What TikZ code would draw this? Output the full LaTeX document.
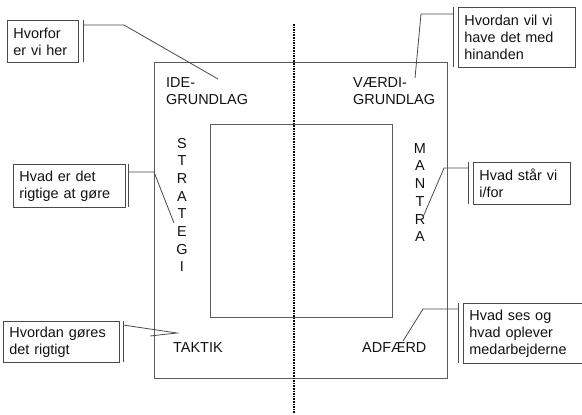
\documentclass[tikz,border=0pt]{standalone}
\usepackage{fontspec}
\setmainfont{Liberation Sans}
\usetikzlibrary{positioning}
\definecolor{frame}{HTML}{5C5C5C}
\definecolor{lead}{HTML}{4A4A4A}
\definecolor{ink}{HTML}{111111}

\begin{document}
\begin{tikzpicture}[x=1bp, y=-1bp,
    lbl/.style={font=\fontsize{14.5}{17}\selectfont, inner sep=0pt, text=ink},
    tall/.style={lbl, align=center, font=\fontsize{14.5}{17.75}\selectfont},
    callout/.style={draw=lead, line width=0.8bp, anchor=north west, align=left,
                    font=\fontsize{14.5}{17}\selectfont, text=ink,
                    inner xsep=6bp, inner ysep=0pt},
    leader/.style={draw=lead, line width=0.8bp},
    dots/.style={draw=black, line width=1.3bp, dash pattern=on 1.6bp off 1bp}]
  \useasboundingbox (0,0) rectangle (582,414);
  % frames
  \draw[frame, line width=0.9bp] (154,62) rectangle (447,378);
  \draw[frame, line width=0.9bp] (210,124) rectangle (392,317);
  \draw[dots] (294,24) -- (294,414);
  % corner words
  \node[lbl, anchor=north west, align=left] (ide) at (166,77) {IDE-\\GRUNDLAG};
  \node[lbl, anchor=north west, align=left] (vaerdi) at (353,77) {VÆRDI-\\GRUNDLAG};
  \node[tall] (strategi) at (182,205) {S\\T\\R\\A\\T\\E\\G\\I};
  \node[tall] (mantra) at (420,192.5) {M\\A\\N\\T\\R\\A};
  \node[lbl, anchor=west] (taktik) at (173,348) {TAKTIK};
  \node[lbl, anchor=west] (adfaerd) at (362,348) {ADFÆRD};
  % callouts
  \node[callout, text width=59bp, minimum height=42bp] (h1) at (7,20) {Hvorfor\\er vi her};
  \node[callout, text width=105bp, minimum height=60bp] (h2) at (458,7) {Hvordan vil vi\\have det med\\hinanden};
  \node[callout, text width=100bp, minimum height=43bp] (h3) at (13,164) {Hvad er det\\rigtige at gøre};
  \node[callout, text width=85bp, minimum height=42bp] (h4) at (473,162) {Hvad står vi\\i/for};
  \node[callout, text width=104bp, minimum height=41bp] (h5) at (3,321) {Hvordan gøres\\det rigtigt};
  \node[callout, text width=107bp, minimum height=60bp] (h6) at (463,303) {Hvad ses og\\hvad oplever\\medarbejderne};
  % brackets
  \draw[leader] (83,20) -- (83,62);
  \draw[leader] (453,7) -- (453,67);
  \draw[leader] (128,164) -- (128,207);
  \draw[leader] (468,162) -- (468,204);
  \draw[leader] (123,321) -- (123,362);
  \draw[leader] (458,303) -- (458,363);
  % leaders
  \coordinate (s1) at (83,25);   \coordinate (k1) at (124,25);  \coordinate (t1) at (218,79);
  \coordinate (s2) at (453,14);  \coordinate (k2) at (421,14);  \coordinate (t2) at (415,78);
  \coordinate (s3) at (128,172); \coordinate (k3) at (154,172); \coordinate (t3) at (174,223);
  \coordinate (s4) at (468,168); \coordinate (k4) at (444,168); \coordinate (t4) at (423,217);
  \coordinate (s5) at (123,325); \coordinate (k5) at (177,333); \coordinate (t5) at (150,336);
  \coordinate (s6) at (458,309); \coordinate (k6) at (423,309); \coordinate (t6) at (403,341);
  \draw[leader] (s1) -- (k1) -- (t1);
  \draw[leader] (s2) -- (k2) -- (t2);
  \draw[leader] (s3) -- (k3) -- (t3);
  \draw[leader] (s4) -- (k4) -- (t4);
  \draw[leader] (s5) -- (k5) -- (t5);
  \draw[leader] (s6) -- (k6) -- (t6);
\end{tikzpicture}
\end{document}
